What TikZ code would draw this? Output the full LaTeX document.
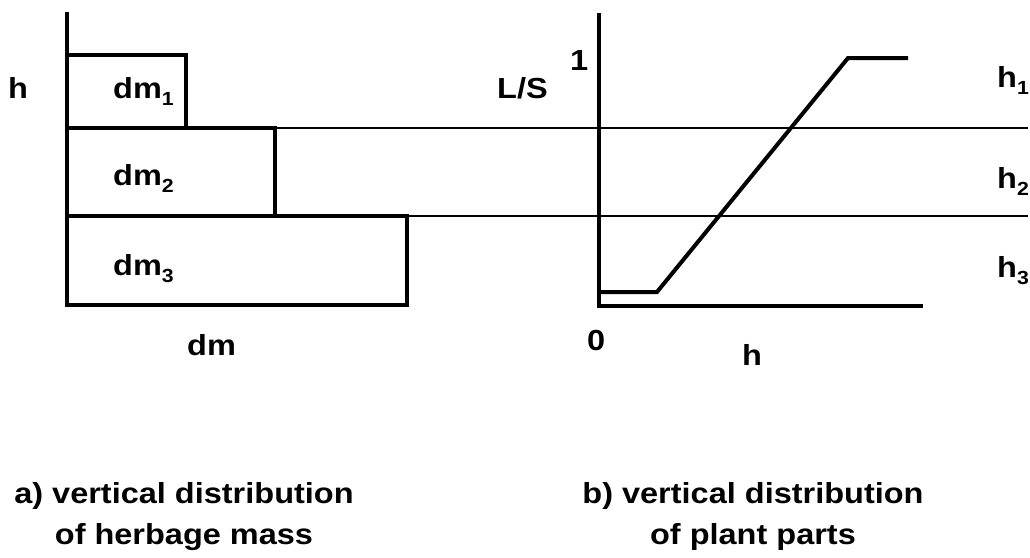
\documentclass[tikz,border=0pt]{standalone}
\usepackage{fontspec}
\setmainfont{Liberation Sans}[FakeStretch=1.12]
\newcommand\idx[1]{\raisebox{-7pt}{\fontsize{19}{19}\selectfont #1}}
\begin{document}
\begin{tikzpicture}[x=1pt, y=-1pt, line join=miter, font=\fontsize{29}{38}\selectfont\bfseries]
	\tikzset{
		lbl/.style={anchor=base west, inner sep=0pt},
		caption/.style={anchor=base, inner sep=0pt},
		bold/.style={line width=4pt},
		fine/.style={line width=2pt}
	}
	\useasboundingbox (0,0) rectangle (1030,557);
	\path
	(67,12) coordinate (Atop)
	(67,305) coordinate (A0)
	(599,13) coordinate (Btop)
	(599,306) coordinate (B0)
	(923,306) coordinate (Bend)
	;
	% a) herbage mass
	\draw[bold] (Atop) -- (A0);
	\draw[bold] (67,55) rectangle (186,128);
	\draw[bold] (67,128) rectangle (275,216);
	\draw[bold] (67,216) rectangle (407,305);
	\draw[fine] (275,128) -- (1028,128);
	\draw[fine] (407,216) -- (1028,216);
	% b) plant parts
	\draw[bold] (Btop) -- (B0) -- (Bend);
	\draw[bold] (599,292) -- (657,292) -- (848,58) -- (908,58);
	% labels
	\node[lbl] (ha) at (8,98) {h};
	\foreach \i/\y in {1/98,2/185,3/275}
		\node[lbl] (dm\i) at (113,\y) {dm\idx{\i}};
	\node[lbl] (dm) at (187,355) {dm};
	\node[lbl] (ls) at (497,98) {L/S};
	\node[lbl] (one) at (570,70) {1};
	\node[lbl] (zero) at (587,350) {0};
	\node[lbl] (hb) at (742,365) {h};
	\foreach \i/\y in {1/87,2/188,3/277}
		\node[lbl] (h\i) at (997,\y) {h\idx{\i}};
	\node[caption] (capa) at (184,503) {a) vertical distribution};
	\node[caption] (capa2) at (184,544) {of herbage mass};
	\node[caption] (capb) at (753,503) {b) vertical distribution};
	\node[caption] (capb2) at (753,544) {of plant parts};
\end{tikzpicture}
\end{document}
